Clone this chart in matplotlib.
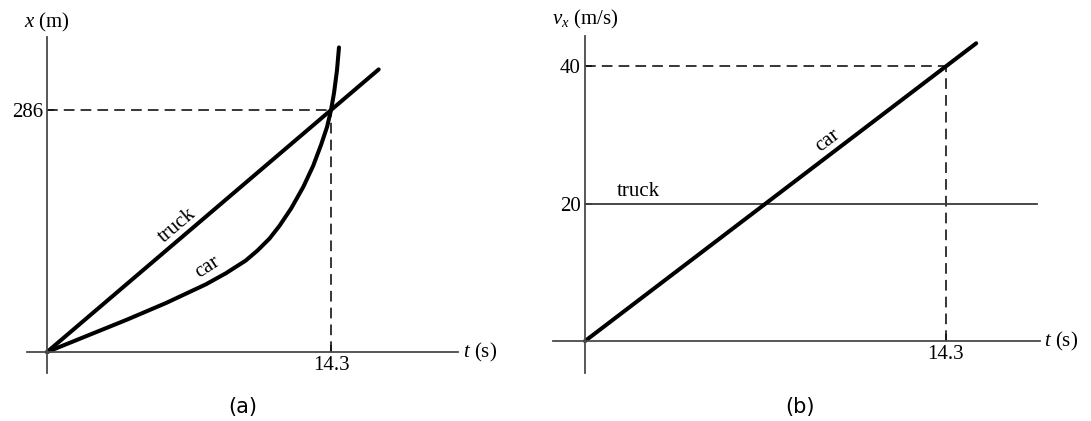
import matplotlib
matplotlib.use("Agg")
import matplotlib.pyplot as plt


# Position-time data (panel a)
truck_t = [0, 16.7]
truck_x = [0, 334]
car_t = [0, 1, 2, 3, 4, 5, 6, 7, 8, 9, 10, 10.6, 11.2, 11.7, 12.3, 12.9,
         13.4, 13.8, 14.1, 14.3, 14.45, 14.6, 14.7]
car_x = [0, 9.5, 19, 28.5, 38, 48, 58, 69, 80, 93, 108, 120, 134, 149, 170,
         195, 220, 245, 266, 286, 306, 333, 360]

# Velocity-time data (panel b)
truck_vt = [0, 17.9]
truck_v = [20, 20]
car_vt = [0, 15.5]
car_v = [0, 43.3]

# Meeting point / marked values
t_meet = 14.3
x_meet = 286
v_car_meet = 40
v_truck = 20

SERIF = "Liberation Serif"
SANS = "DejaVu Sans"
FS = 15


def setup_axes(ax, xlim, ylim):
    """ Axes drawn as two crossing lines through the origin """
    ax.set_xlim(*xlim)
    ax.set_ylim(*ylim)
    for side in ["top", "right"]:
        ax.spines[side].set_visible(False)
    for side in ["left", "bottom"]:
        ax.spines[side].set_position(("data", 0))
        ax.spines[side].set_color("#4a4a4a")
        ax.spines[side].set_linewidth(1.3)
    ax.tick_params(direction="in", length=5, width=1.2, color="#4a4a4a",
                   pad=3, labelsize=FS)
    for lbl in ax.get_xticklabels() + ax.get_yticklabels():
        lbl.set_fontfamily(SERIF)


def main():
    plt.rcParams["mathtext.fontset"] = "custom"
    plt.rcParams["mathtext.rm"] = SERIF
    plt.rcParams["mathtext.it"] = SERIF + ":italic"

    fig = plt.figure(figsize=(10.91, 4.21), dpi=100)
    ax1 = fig.add_axes([0.02475, 0.1140, 0.3950, 0.7981])
    ax2 = fig.add_axes([0.5069, 0.1140, 0.4464, 0.8005])

    dash = dict(color="black", lw=1.1, dashes=(7, 4))
    thick = dict(color="black", lw=2.9, solid_capstyle="round",
                 solid_joinstyle="round")

    # Panel (a): position vs time
    ax1.set_xticks([t_meet])
    ax1.set_xticklabels(["14.3"])
    ax1.set_yticks([x_meet])
    ax1.set_yticklabels(["286"])
    setup_axes(ax1, (-1.007, 20.69), (-24.8, 372.3))
    ax1.plot([0, t_meet], [x_meet, x_meet], **dash)
    ax1.plot([t_meet, t_meet], [0, x_meet], **dash)
    ax1.plot(truck_t, truck_x, **thick)
    ax1.plot(car_t, car_x, **thick)
    ax1.text(6.55, 149, "truck", rotation=40.4, ha="center", va="center",
             fontsize=FS, family=SERIF)
    ax1.text(8.1, 100, "car", rotation=33, ha="center", va="center",
             fontsize=FS, family=SERIF)
    ax1.text(0, 390, "$x$ (m)", ha="center", va="center", fontsize=FS,
             family=SERIF, clip_on=False)
    ax1.text(20.95, 0, "$t$ (s)", ha="left", va="center", fontsize=FS,
             family=SERIF, clip_on=False)

    # Panel (b): velocity vs time
    ax2.set_xticks([t_meet])
    ax2.set_xticklabels(["14.3"])
    ax2.set_yticks([v_truck, v_car_meet])
    ax2.set_yticklabels(["20", "40"])
    setup_axes(ax2, (-1.268, 18.03), (-4.65, 44.36))
    ax2.plot([0, t_meet], [v_car_meet, v_car_meet], **dash)
    ax2.plot([t_meet, t_meet], [0, v_car_meet], **dash)
    ax2.plot(truck_vt, truck_v, color="#3a3a3a", lw=1.3)
    ax2.plot(car_vt, car_v, **thick)
    ax2.text(1.27, 20.4, "truck", ha="left", va="bottom", fontsize=FS,
             family=SERIF)
    ax2.text(9.63, 29.2, "car", rotation=37.3, ha="center", va="center",
             fontsize=FS, family=SERIF)
    ax2.text(0, 46.7, "$v_x$ (m/s)", ha="center", va="center", fontsize=FS,
             family=SERIF, clip_on=False)
    ax2.text(18.2, 0, "$t$ (s)", ha="left", va="center", fontsize=FS,
             family=SERIF, clip_on=False)

    # Panel captions
    fig.text(243 / 1091, 1 - 407 / 421, "(a)", ha="center", va="center",
             fontsize=FS, family=SANS)
    fig.text(800 / 1091, 1 - 407 / 421, "(b)", ha="center", va="center",
             fontsize=FS, family=SANS)

    fig.savefig("out.png", dpi=100)


if __name__ == "__main__":
    main()
